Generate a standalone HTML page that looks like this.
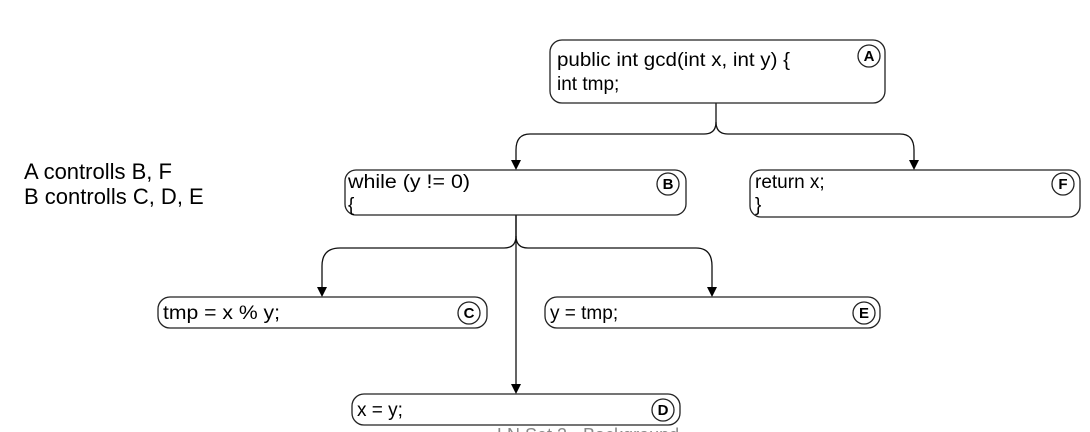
<!DOCTYPE html>
<html><head><meta charset="utf-8"><style>
html,body{margin:0;padding:0;background:#fff;}
svg{display:block;font-family:"Liberation Sans",sans-serif;}
</style></head><body>
<svg width="1090" height="432" viewBox="0 0 1090 432">
<g font-size="22" fill="#000">
<text x="24" y="179">A controlls B, F</text>
<text x="24" y="204">B controlls C, D, E</text>
</g>
<g fill="none" stroke="#111" stroke-width="1.3">
<path d="M716,103 V122 Q716,134 704,134 H530 Q516,134 516,150 V164"/>
<path d="M716,122 Q716,134 728,134 H900 Q914,134 914,150 V164"/>
<path d="M516,215 V236 Q516,248 504,248 H340 Q322,248 322,266 V291"/>
<path d="M516,236 Q516,248 528,248 H696 Q712,248 712,266 V291"/>
<path d="M516,215 V388"/>
</g>
<g fill="#000">
<path d="M511,160 L521,160 L516,170 Z"/><path d="M909,160 L919,160 L914,170 Z"/>
<path d="M317,287 L327,287 L322,297 Z"/><path d="M707,287 L717,287 L712,297 Z"/>
<path d="M511,384 L521,384 L516,394 Z"/>
</g>
<g fill="none" stroke="#222" stroke-width="1.3">
<rect x="550" y="40" width="335" height="63" rx="12"/>
<rect x="345" y="170" width="341" height="45" rx="11"/>
<rect x="750" y="170" width="330" height="47" rx="11"/>
<rect x="158" y="297" width="329" height="31" rx="12"/>
<rect x="545" y="297" width="335" height="31" rx="12"/>
<rect x="352" y="394" width="328" height="31" rx="12"/>
<circle cx="869" cy="56" r="11"/><circle cx="668" cy="184" r="11"/><circle cx="1063" cy="184" r="11"/>
<circle cx="469" cy="313" r="11"/><circle cx="864" cy="313" r="11"/><circle cx="663" cy="410" r="11"/>
</g>
<g font-size="19" fill="#000">
<text x="557" y="66" textLength="233" lengthAdjust="spacingAndGlyphs">public int gcd(int x, int y) {</text>
<text x="557" y="90">int tmp;</text>
<text x="348" y="188" textLength="122" lengthAdjust="spacingAndGlyphs">while (y != 0)</text>
<text x="348" y="211">{</text>
<text x="755" y="188">return x;</text>
<text x="755" y="211">}</text>
<text x="163" y="319" textLength="117" lengthAdjust="spacingAndGlyphs">tmp = x % y;</text>
<text x="550" y="319">y = tmp;</text>
<text x="357" y="416">x = y;</text>
</g>
<g font-size="15" font-weight="bold" text-anchor="middle" fill="#000">
<text x="869" y="61">A</text><text x="668" y="189">B</text><text x="1063" y="189">F</text>
<text x="469" y="318">C</text><text x="864" y="318">E</text><text x="663" y="415">D</text>
</g>
<text x="497" y="441" font-size="18" fill="#888">LN Set 2 - Background</text>
</svg>
</body></html>
